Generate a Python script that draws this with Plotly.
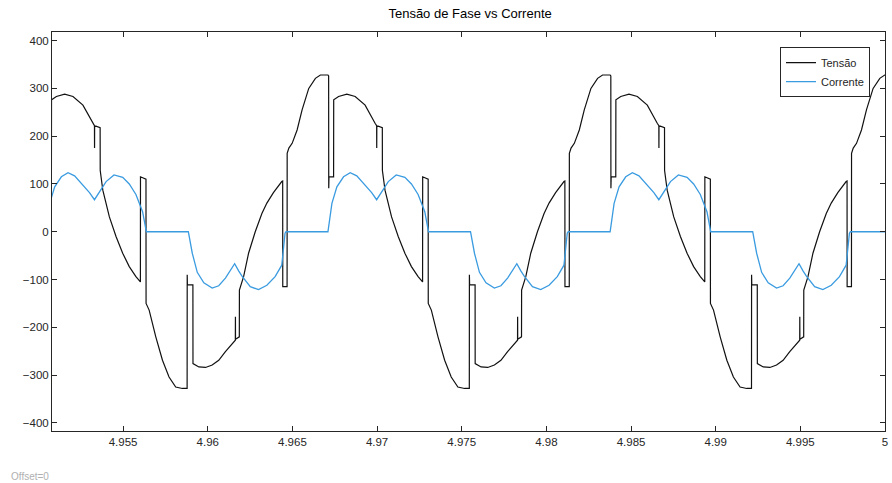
import plotly.graph_objects as go

# time axis: milliseconds after 4.95 s
T0 = 4.95

tensao_ms = [
    0.493, 0.765, 0.771, 1.059, 1.546, 2.040, 2.627, 3.214, 3.308, 3.313, 3.318, 3.643, 3.648, 3.801,
    4.189, 4.582, 4.976, 5.363, 5.757, 6.021, 6.026, 6.351, 6.356, 6.538, 6.931, 7.325, 7.712, 8.106,
    8.499, 8.781, 8.786, 8.798, 9.122, 9.127, 9.474, 9.868, 10.261, 10.648, 11.042, 11.435, 11.629,
    11.634, 11.639, 11.864, 11.869, 12.117, 12.410, 12.804, 13.197, 13.491, 13.878, 14.371, 14.425,
    14.430, 14.685,
    14.690, 14.790, 14.984, 15.277, 15.571, 15.964, 16.358, 16.651, 17.098, 17.139, 17.145, 17.160,
    17.432, 17.438, 17.726, 18.213, 18.707, 19.294, 19.881, 19.975, 19.980, 19.985, 20.310, 20.315,
    20.468, 20.856, 21.249, 21.643, 22.030, 22.424, 22.688, 22.693, 23.018, 23.023, 23.205, 23.598,
    23.992, 24.379, 24.773, 25.166, 25.448, 25.453, 25.465, 25.789, 25.794, 26.141, 26.535, 26.928,
    27.315, 27.709, 28.102, 28.296, 28.301, 28.306, 28.531, 28.536, 28.784, 29.077, 29.471, 29.864,
    30.158, 30.545, 31.038, 31.092, 31.097, 31.352,
    31.357, 31.457, 31.651, 31.944, 32.238, 32.631, 33.025, 33.318, 33.765, 33.806, 33.812, 33.827,
    34.099, 34.105, 34.393, 34.880, 35.374, 35.961, 36.548, 36.642, 36.647, 36.652, 36.977, 36.982,
    37.135, 37.523, 37.916, 38.310, 38.697, 39.091, 39.355, 39.360, 39.685, 39.690, 39.872, 40.265,
    40.659, 41.046, 41.440, 41.833, 42.115, 42.120, 42.132, 42.456, 42.461, 42.808, 43.202, 43.595,
    43.982, 44.376, 44.769, 44.963, 44.968, 44.973, 45.198, 45.203, 45.451, 45.744, 46.138, 46.531,
    46.825, 47.212, 47.705, 47.759, 47.764, 48.019,
    48.024, 48.124, 48.318, 48.611, 48.905, 49.298, 49.692, 49.985, 50.432,
]
tensao_v = [
    115, 115, 276, 283, 288, 283, 265, 227, 222, 175, 222, 218, 128, 87,
    31, -10, -45, -73, -94, -105, 115, 110, -150, -164, -220, -269, -304, -325,
    -328, -328, -90, -111, -111, -276, -283, -284, -279, -269, -251, -234, -227,
    -178, -225, -220, -122, -94, -45, 0, 38, 60, 82, 105, 106,
    -115, -115,
    164, 175, 185, 213, 255, 300, 321, 328, 328, 326, 91, 115,
    115, 276, 283, 288, 283, 265, 227, 222, 175, 222, 218, 128,
    87, 31, -10, -45, -73, -94, -105, 115, 110, -150, -164, -220,
    -269, -304, -325, -328, -328, -90, -111, -111, -276, -283, -284, -279,
    -269, -251, -234, -227, -178, -225, -220, -122, -94, -45, 0, 38,
    60, 82, 105, 106, -115, -115,
    164, 175, 185, 213, 255, 300, 321, 328, 328, 326, 91, 115,
    115, 276, 283, 288, 283, 265, 227, 222, 175, 222, 218, 128,
    87, 31, -10, -45, -73, -94, -105, 115, 110, -150, -164, -220,
    -269, -304, -325, -328, -328, -90, -111, -111, -276, -283, -284, -279,
    -269, -251, -234, -227, -178, -225, -220, -122, -94, -45, 0, 38,
    60, 82, 105, 106, -115, -115,
    164, 175, 185, 213, 255, 300, 321, 328, 328,
]

corrente_ms = [
    0.666, 0.959, 1.353, 1.746, 2.134, 2.627, 3.014, 3.308, 3.602, 3.995, 4.463, 4.976, 5.363, 5.757,
    6.150, 6.344, 6.373, 8.852, 9.086, 9.380, 9.768, 10.261, 10.648, 11.042, 11.323, 11.588, 11.823,
    12.023, 12.510, 12.997, 13.491, 13.978, 14.371, 14.565, 14.623,
    17.098, 17.333, 17.626, 18.020, 18.413, 18.801, 19.294, 19.681, 19.975, 20.269, 20.662, 21.130,
    21.643, 22.030, 22.424, 22.817, 23.011, 23.040, 25.519, 25.753, 26.047, 26.435, 26.928, 27.315,
    27.709, 27.990, 28.255, 28.490, 28.690, 29.177, 29.664, 30.158, 30.645, 31.038, 31.232, 31.290,
    33.765, 34.000, 34.293, 34.687, 35.080, 35.468, 35.961, 36.348, 36.642, 36.936, 37.329, 37.797,
    38.310, 38.697, 39.091, 39.484, 39.678, 39.707, 42.186, 42.420, 42.714, 43.102, 43.595, 43.982,
    44.376, 44.657, 44.922, 45.157, 45.357, 45.844, 46.331, 46.825, 47.312, 47.705, 47.899, 47.957,
    50.200,
]
corrente_a = [
    59.5, 94, 115, 123.6, 117, 98, 82, 67, 84, 105, 119, 114, 100, 78,
    42, 5, 0, 0, -45, -85, -107, -118, -113, -97, -82, -67, -82,
    -93, -115, -121, -112, -94, -70, -3, 0,
    0, 59.5, 94, 115, 123.6, 117, 98, 82, 67, 84, 105, 119,
    114, 100, 78, 42, 5, 0, 0, -45, -85, -107, -118, -113,
    -97, -82, -67, -82, -93, -115, -121, -112, -94, -70, -3, 0,
    0, 59.5, 94, 115, 123.6, 117, 98, 82, 67, 84, 105, 119,
    114, 100, 78, 42, 5, 0, 0, -45, -85, -107, -118, -113,
    -97, -82, -67, -82, -93, -115, -121, -112, -94, -70, -3, 0,
    0,
]

x_ticks = [4.955, 4.96, 4.965, 4.97, 4.975, 4.98, 4.985, 4.99, 4.995, 5.0]
x_tick_labels = ["4.955", "4.96", "4.965", "4.97", "4.975", "4.98", "4.985", "4.99", "4.995", "5"]
y_ticks = [-400, -300, -200, -100, 0, 100, 200, 300, 400]

t_tensao = [T0 + m / 1000 for m in tensao_ms]
t_corrente = [T0 + m / 1000 for m in corrente_ms]

FONT = "Liberation Sans, Arial, sans-serif"

fig = go.Figure()
fig.add_trace(go.Scatter(x=t_tensao, y=tensao_v, mode="lines", name="Tensão",
                         line=dict(color="#111111", width=1.2)))
fig.add_trace(go.Scatter(x=t_corrente, y=corrente_a, mode="lines", name="Corrente",
                         line=dict(color="#3a9be0", width=1.3)))

axis_common = dict(showgrid=False, zeroline=False, showline=True, linecolor="#262626",
                   linewidth=1, mirror="ticks", ticks="inside", ticklen=5, tickcolor="#262626",
                   tickfont=dict(family=FONT, size=11.5, color="#262626"))

fig.update_layout(
    width=892, height=483,
    margin=dict(l=52, r=4, t=32, b=52),
    paper_bgcolor="white", plot_bgcolor="white",
    title=dict(text="Tensão de Fase vs Corrente", x=0.527, xanchor="center", y=0.972, yanchor="middle",
               font=dict(family=FONT, size=13, color="#000000")),
    xaxis=dict(range=[4.9508, 5.0], tickvals=x_ticks, ticktext=x_tick_labels, **axis_common),
    yaxis=dict(range=[-417, 418], tickvals=y_ticks, **axis_common),
    legend=dict(x=0.982, y=0.962, xanchor="right", yanchor="top", bgcolor="white",
                bordercolor="#262626", borderwidth=1, tracegroupgap=0,
                font=dict(family=FONT, size=11, color="#262626")),
    showlegend=True,
    annotations=[dict(text="Offset=0", xref="paper", yref="paper", x=-0.052, y=-0.114,
                      xanchor="left", yanchor="middle", showarrow=False,
                      font=dict(family=FONT, size=10, color="#b0b0b0"))],
)

fig.write_html("out.html")
